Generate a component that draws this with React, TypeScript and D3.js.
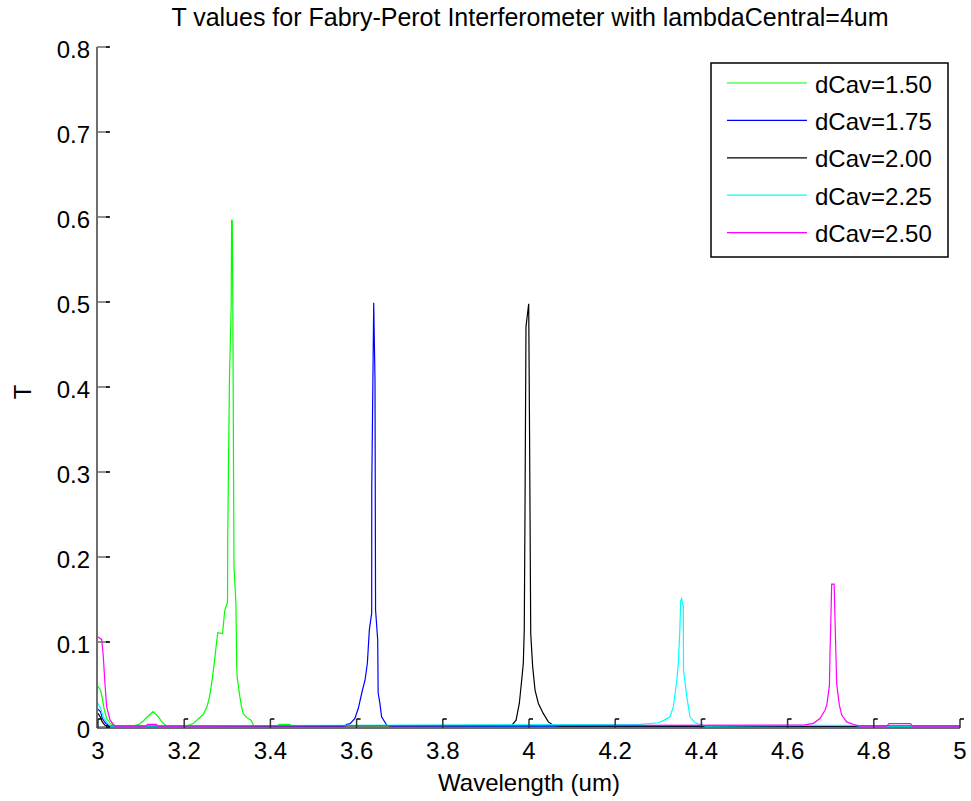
import * as d3 from "d3";

// wavelength (um), T
const green: [number, number][] = [
  [3.0, 0.048], [3.006, 0.043], [3.010, 0.034], [3.014, 0.022], [3.020, 0.010], [3.029, 0.004], [3.040, 0.001],
  [3.080, 0.001], [3.095, 0.003], [3.105, 0.007], [3.115, 0.012], [3.128, 0.018], [3.140, 0.012], [3.150, 0.005],
  [3.160, 0.001], [3.205, 0.001], [3.221, 0.004], [3.237, 0.0115], [3.245, 0.0155], [3.253, 0.024], [3.259, 0.036],
  [3.265, 0.056], [3.269, 0.072], [3.275, 0.099], [3.278, 0.111], [3.289, 0.110], [3.294, 0.137], [3.3005, 0.147],
  [3.301, 0.222], [3.305, 0.409], [3.309, 0.494], [3.310, 0.596], [3.3115, 0.596], [3.3128, 0.498], [3.3155, 0.19],
  [3.320, 0.145], [3.322, 0.07], [3.323, 0.058], [3.329, 0.036], [3.333, 0.024], [3.337, 0.0155], [3.345, 0.011],
  [3.355, 0.008], [3.362, 0.001], [3.417, 0.001], [3.420, 0.003], [3.445, 0.003], [3.450, 0.001], [5.0, 0.001],
];

const blue: [number, number][] = [
  [3.0, 0.021], [3.006, 0.018], [3.010, 0.010], [3.018, 0.004], [3.028, 0.001],
  [3.573, 0.001], [3.576, 0.003], [3.585, 0.004], [3.596, 0.010], [3.604, 0.022], [3.612, 0.040], [3.6195, 0.055],
  [3.625, 0.075], [3.6295, 0.114], [3.635, 0.134], [3.6352, 0.283], [3.637, 0.369], [3.6397, 0.499], [3.6427, 0.408],
  [3.644, 0.1376], [3.649, 0.102], [3.650, 0.040], [3.654, 0.028], [3.658, 0.012], [3.670, 0.002], [3.680, 0.001],
  [5.0, 0.001],
];

const black: [number, number][] = [
  [3.0, 0.016], [3.005, 0.012], [3.010, 0.006], [3.016, 0.002], [3.025, 0.001],
  [3.960, 0.002], [3.970, 0.008], [3.9776, 0.028], [3.983, 0.055], [3.9868, 0.075], [3.989, 0.114], [3.9907, 0.252],
  [3.993, 0.471], [3.9993, 0.498], [4.001, 0.369], [4.004, 0.110], [4.0085, 0.071], [4.014, 0.0435], [4.0216, 0.028],
  [4.033, 0.016], [4.045, 0.006], [4.056, 0.002], [4.070, 0.001], [5.0, 0.001],
];

const cyan: [number, number][] = [
  [3.0, 0.028], [3.006, 0.022], [3.012, 0.012], [3.021, 0.005], [3.030, 0.001],
  [4.2575, 0.003], [4.300, 0.005], [4.3117, 0.0075], [4.327, 0.012], [4.335, 0.024], [4.343, 0.055], [4.3465, 0.075],
  [4.350, 0.114], [4.352, 0.149], [4.354, 0.151], [4.358, 0.1416], [4.3585, 0.067], [4.366, 0.036], [4.3735, 0.012],
  [4.385, 0.005], [4.397, 0.003], [4.410, 0.001], [4.640, 0.002], [4.756, 0.002], [4.770, 0.001], [5.0, 0.001],
];

const magenta: [number, number][] = [
  [3.0, 0.106], [3.0086, 0.103], [3.0123, 0.083], [3.016, 0.052], [3.020, 0.024], [3.028, 0.008], [3.039, 0.001],
  [3.110, 0.001], [3.115, 0.003], [3.135, 0.003], [3.140, 0.001], [4.640, 0.0024], [4.660, 0.0043], [4.675, 0.010],
  [4.687, 0.020], [4.691, 0.026], [4.697, 0.049], [4.6984, 0.0867], [4.700, 0.118], [4.7023, 0.168], [4.708, 0.168],
  [4.710, 0.126], [4.7139, 0.051], [4.720, 0.026], [4.7255, 0.014], [4.737, 0.006], [4.756, 0.0024], [4.770, 0.001],
  [4.830, 0.001], [4.835, 0.004], [4.885, 0.004], [4.890, 0.001], [5.0, 0.001],
];

const seriesData = [green, blue, black, cyan, magenta];
const seriesColors = ["#00ff00", "#0000ff", "#000000", "#00ffff", "#ff00ff"];
const legendLabels = ["dCav=1.50", "dCav=1.75", "dCav=2.00", "dCav=2.25", "dCav=2.50"];

const xTickValues = [3, 3.2, 3.4, 3.6, 3.8, 4, 4.2, 4.4, 4.6, 4.8, 5];
const yTickValues = [0, 0.1, 0.2, 0.3, 0.4, 0.5, 0.6, 0.7, 0.8];

const font = "'Liberation Sans', Arial, sans-serif";

export default function App() {
  const width = 971;
  const height = 801;
  const left = 98;
  const right = 960;
  const top = 47;
  const bottom = 727;

  const xScale = d3.scaleLinear().domain([3, 5]).range([left, right]);
  const yScale = d3.scaleLinear().domain([0, 0.8]).range([bottom, top]);

  const line = d3
    .line<[number, number]>()
    .x((d) => xScale(d[0]))
    .y((d) => yScale(d[1]));

  const axisColor = "#6e6e6e";

  return (
    <svg
      width={width}
      height={height}
      style={{ position: "absolute", left: 0, top: 0, background: "#fff" }}
      fontFamily={font}
    >
      <rect width={width} height={height} fill="#fff" />

      <text x={530} y={26} textAnchor="middle" fontSize={25}>
        T values for Fabry-Perot Interferometer with lambdaCentral=4um
      </text>

      {/* data */}
      {seriesData.map((s, i) => (
        <path key={legendLabels[i]} d={line(s) ?? ""} fill="none" stroke={seriesColors[i]} strokeWidth={1.2} />
      ))}

      {/* axes */}
      <line x1={left - 1} y1={top} x2={left - 1} y2={bottom + 1} stroke={axisColor} strokeWidth={2} />
      <line x1={left - 1} y1={bottom + 1} x2={right} y2={bottom + 1} stroke={axisColor} strokeWidth={2} />

      {yTickValues.map((t) => (
        <g key={`y-${t}`} transform={`translate(${left - 1}, ${yScale(t)})`}>
          <line x1={0} y1={0} x2={12} y2={0} stroke={axisColor} strokeWidth={1.5} />
          <line x1={9} y1={0} x2={13} y2={0} stroke="#000" strokeWidth={1.5} />
          <text x={-7} y={2} textAnchor="end" dominantBaseline="central" fontSize={24}>
            {t}
          </text>
        </g>
      ))}

      {xTickValues.map((t) => (
        <g key={`x-${t}`} transform={`translate(${xScale(t)}, ${bottom + 1})`}>
          <line x1={0} y1={0} x2={0} y2={-9} stroke="#333" strokeWidth={1.5} />
          <line x1={0} y1={-9} x2={4} y2={-9} stroke="#000" strokeWidth={1.5} />
          <text x={0} y={31} textAnchor="middle" fontSize={24}>
            {t}
          </text>
        </g>
      ))}

      <text x={529} y={791} textAnchor="middle" fontSize={24}>
        Wavelength (um)
      </text>
      <text transform="translate(31, 392) rotate(-90)" textAnchor="middle" fontSize={24}>
        T
      </text>

      {/* legend */}
      <g>
        <rect x={711} y={63} width={237} height={194} fill="#fff" stroke="#000" strokeWidth={1.5} />
        {legendLabels.map((label, i) => {
          const y = 83 + i * 37.4;
          return (
            <g key={label}>
              <line x1={727} y1={y} x2={807} y2={y} stroke={seriesColors[i]} strokeWidth={1.2} />
              <text x={815} y={y + 1} dominantBaseline="central" fontSize={24}>
                {label}
              </text>
            </g>
          );
        })}
      </g>
    </svg>
  );
}
